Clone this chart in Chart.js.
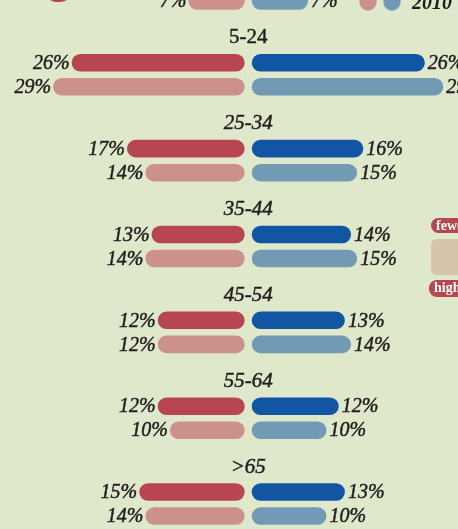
<!DOCTYPE html>
<html>
<head>
<meta charset="utf-8">
<script src="https://cdn.jsdelivr.net/npm/chart.js@4/dist/chart.umd.min.js"></script>
<style>
  html, body { margin: 0; padding: 0; }
  body { width: 458px; height: 529px; overflow: hidden; background: #e0e8cb; position: relative; }
  #wrap { position: absolute; left: 0; top: -54px; width: 458px; height: 601px; }
  .pill { position: absolute; color: #fff; background: #b84652; border-radius: 8px; white-space: nowrap;
          font: bold 14px "Liberation Serif", serif; padding-left: 5px; width: 60px; }
  #fewer { left: 431px; top: 218px; height: 15px; line-height: 15px; }
  #higher { left: 429px; top: 280px; height: 17px; line-height: 16px; }
  #scale { position: absolute; left: 431px; top: 239px; width: 60px; height: 36px; border-radius: 6px; background: #d6c4ad; }
  #head { position: absolute; left: 47px; top: -48px; color: #b84652; font: 48px/48px "Liberation Serif", serif; }
</style>
</head>
<body>
<div id="head">g</div>
<div id="wrap"><canvas id="myChart" width="458" height="601"></canvas></div>
<div class="pill" id="fewer">fewer</div>
<div id="scale"></div>
<div class="pill" id="higher">higher</div>
<script>
// age groups, top one is mostly cut off in the picture
const ageGroups = ["<5", "5-24", "25-34", "35-44", "45-54", "55-64", ">65"];
const years = ["2020", "2010"];
// left side (red) and right side (blue), in %
const redNow = [5, 26, 17, 13, 12, 12, 15];
const red2010 = [7, 29, 14, 14, 12, 10, 14];
const blueNow = [6, 26, 16, 14, 13, 12, 13];
const blue2010 = [7, 29, 15, 15, 14, 10, 10];

const uprightTitles = ["5-24"];
const barStart = -2.15; // bars begin a little before zero, like the original

const colors = {
  redNow: "#b84652",
  red2010: "#cb918a",
  blueNow: "#1155a3",
  blue2010: "#729ab5",
  text: "#1e1e1e",
};

function bars(label, data, color, side, stack) {
  return {
    label: label,
    data: data,
    backgroundColor: color,
    xAxisID: side,
    stack: stack,
    base: barStart,
    borderRadius: 20,
    borderSkipped: false,
    categoryPercentage: 0.56,
    barPercentage: 0.73,
  };
}

// fill + thin stroke, the original type is a bit heavier
function heavyText(ctx, str, x, y) {
  ctx.fillText(str, x, y);
  ctx.strokeText(str, x, y);
}

const labelPlugin = {
  id: "labels",
  afterDatasetsDraw(chart) {
    const ctx = chart.ctx;
    const xl = chart.scales.xl;
    const xr = chart.scales.xr;
    const yScale = chart.scales.y;
    const mid = (xl.getPixelForValue(barStart) + xr.getPixelForValue(barStart)) / 2;
    ctx.save();
    ctx.fillStyle = colors.text;
    ctx.strokeStyle = colors.text;
    ctx.lineWidth = 0.45;
    ctx.textBaseline = "middle";

    // percent labels at the bar ends
    ctx.font = 'italic 20px "Liberation Serif", serif';
    chart.data.datasets.forEach((ds, i) => {
      const left = ds.xAxisID === "xl";
      ctx.textAlign = left ? "right" : "left";
      chart.getDatasetMeta(i).data.forEach((bar, j) => {
        heavyText(ctx, ds.data[j] + "%", bar.x + (left ? -2 : 3), bar.y + 1);
      });
    });

    // age group titles
    ctx.textAlign = "center";
    ageGroups.forEach((g, j) => {
      ctx.font = (uprightTitles.includes(g) ? "" : "italic ") + '21px "Liberation Serif", serif';
      heavyText(ctx, g, mid, yScale.getPixelForValue(j) - 37);
    });

    // year legend, next to the first group
    const rows = [
      [chart.getDatasetMeta(0).data[0].y, colors.redNow, colors.blueNow, years[0]],
      [chart.getDatasetMeta(1).data[0].y, colors.red2010, colors.blue2010, years[1]],
    ];
    ctx.font = 'italic bold 20px "Liberation Serif", serif';
    ctx.textAlign = "left";
    rows.forEach((r) => {
      ctx.fillStyle = r[1];
      ctx.beginPath();
      ctx.arc(368, r[0] + 1, 8.7, 0, Math.PI * 2);
      ctx.fill();
      ctx.fillStyle = r[2];
      ctx.beginPath();
      ctx.arc(392, r[0] + 1, 8.7, 0, Math.PI * 2);
      ctx.fill();
      ctx.fillStyle = colors.text;
      ctx.fillText(r[3], 412, r[0] + 3);
    });
    ctx.restore();
  },
};

const ctx = document.getElementById("myChart");
new Chart(ctx, {
  type: "bar",
  data: {
    labels: ageGroups,
    datasets: [
      bars(years[0], redNow, colors.redNow, "xl", "now"),
      bars(years[1], red2010, colors.red2010, "xl", "old"),
      bars(years[0], blueNow, colors.blueNow, "xr", "now"),
      bars(years[1], blue2010, colors.blue2010, "xr", "old"),
    ],
  },
  options: {
    indexAxis: "y",
    responsive: false,
    animation: false,
    layout: { padding: 0 },
    plugins: { legend: { display: false }, tooltip: { enabled: false } },
    scales: {
      y: { type: "category", display: false, offset: true },
      xl: { axis: "x", type: "linear", reverse: true, min: -36.83, max: 37.64, display: false, stacked: false },
      xr: { axis: "x", type: "linear", min: -43.08, max: 31.39, display: false, stacked: false },
    },
  },
  plugins: [labelPlugin],
});
</script>
</body>
</html>
